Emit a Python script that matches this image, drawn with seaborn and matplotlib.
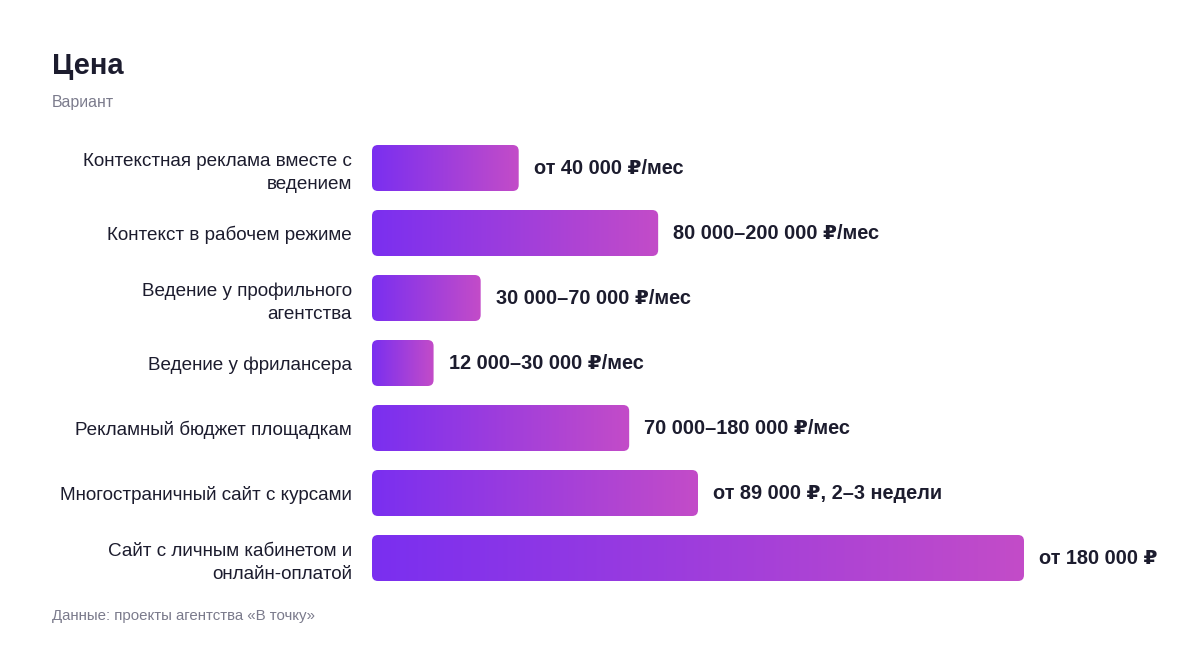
import numpy as np
import pandas as pd
import matplotlib
matplotlib.use("Agg")
import matplotlib.pyplot as plt
import seaborn as sns
from matplotlib.patches import FancyBboxPatch
from matplotlib.colors import LinearSegmentedColormap

# data (bar lengths in thousands of rubles)
options = [
    "Контекстная реклама вместе с\nведением",
    "Контекст в рабочем режиме",
    "Ведение у профильного\nагентства",
    "Ведение у фрилансера",
    "Рекламный бюджет площадкам",
    "Многостраничный сайт с курсами",
    "Сайт с личным кабинетом и\nонлайн-оплатой",
]
bar_values = [40.5, 79, 30, 17, 71, 90, 180]
price_labels = [
    "от 40 000 ₽/мес",
    "80 000–200 000 ₽/мес",
    "30 000–70 000 ₽/мес",
    "12 000–30 000 ₽/мес",
    "70 000–180 000 ₽/мес",
    "от 89 000 ₽, 2–3 недели",
    "от 180 000 ₽",
]

sns.set_style("white")
FONT = ["Liberation Sans", "DejaVu Sans"]
plt.rcParams["font.family"] = FONT

DARK = "#1c1c2e"
GREY = "#7b7b8c"
grad = LinearSegmentedColormap.from_list("bar", ["#7a2ff0", "#c34cc8"])

df = pd.DataFrame({"option": options, "value": bar_values})

fig = plt.figure(figsize=(12, 6.48), dpi=100)
ax = fig.add_axes([372 / 1200, 1 - 590.5 / 648, 652 / 1200, 455 / 648])

sns.barplot(data=df, x="value", y="option", orient="h", ax=ax,
            width=46 / 65, color="#7a2ff0")

# px -> data units for rounded corners
px_x = 180 / 652
px_y = 1 / 65
r = 6 * px_x
aspect = px_y / px_x

bars = list(ax.patches)
for p in bars:
    x, y, w, h = p.get_x(), p.get_y(), p.get_width(), p.get_height()
    p.remove()
    box = FancyBboxPatch((x, y), w, h,
                         boxstyle=f"round,pad=0,rounding_size={r}",
                         mutation_aspect=aspect, linewidth=0,
                         facecolor="none", edgecolor="none")
    ax.add_patch(box)
    img = ax.imshow(np.linspace(0, 1, 256).reshape(1, -1), cmap=grad,
                    extent=[x, x + w, y + h, y], aspect="auto",
                    interpolation="bilinear", zorder=2)
    img.set_clip_path(box)

ax.set_xlim(0, 180)
ax.set_ylim(6.5, -0.5)

for i, (v, lab) in enumerate(zip(bar_values, price_labels)):
    ax.text(v + 15 * px_x, i, lab, va="center", ha="left", fontsize=14.4,
            fontweight="bold", color=DARK, family=FONT, clip_on=False)

ax.set_xlabel("")
ax.set_ylabel("")
ax.set_xticks([])
ax.set_yticks(range(len(options)))
ax.set_yticklabels(options, linespacing=1.45, multialignment="right",
                   fontsize=13.6, color=DARK)
ax.tick_params(axis="y", length=0, pad=14.4)
for t in ax.get_yticklabels():
    t.set_linespacing(1.45)
sns.despine(ax=ax, left=True, bottom=True)

fig.text(52 / 1200, 1 - 66 / 648, "Цена", fontsize=21, fontweight="bold",
         color=DARK, va="center", ha="left")
fig.text(52 / 1200, 1 - 102 / 648, "Вариант", fontsize=11.4, color=GREY,
         va="center", ha="left")
fig.text(52 / 1200, 1 - 616 / 648, "Данные: проекты агентства «В точку»",
         fontsize=10.8, color=GREY, va="center", ha="left")

fig.savefig("out.png", dpi=100, facecolor="white")
